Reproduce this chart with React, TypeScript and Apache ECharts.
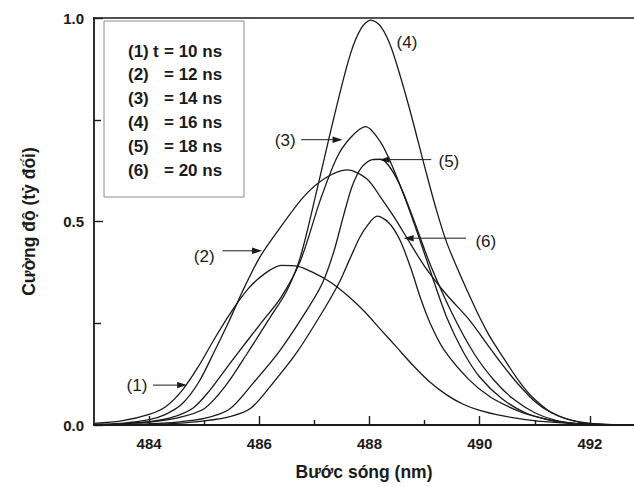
import React, { useEffect, useRef } from "react";
import * as echarts from "echarts";

const X_MIN = 483;
const X_MAX = 492.8;
const xMajorTicks = [484, 486, 488, 490, 492];
const xMinorTicks = [485, 487, 489, 491];
const Y_MIN = 0;
const Y_MAX = 1;
const Y_INTERVAL = 0.5;

const xTitle = "Bước sóng (nm)";
const yTitle = "Cường độ (tỷ đối)";

// (wavelength nm, relative intensity)
const curve1: [number, number][] = [
  [483.0, 0.004], [483.5, 0.01], [484.0, 0.026], [484.3, 0.045], [484.6, 0.085],
  [484.9, 0.145], [485.2, 0.215], [485.5, 0.28], [485.8, 0.335], [486.1, 0.372],
  [486.4, 0.392], [486.7, 0.39], [487.0, 0.373], [487.3, 0.35], [487.6, 0.318],
  [487.9, 0.28], [488.2, 0.235], [488.5, 0.19], [488.8, 0.145], [489.1, 0.105],
  [489.4, 0.074], [489.7, 0.051], [490.0, 0.036], [490.4, 0.023], [490.8, 0.014],
  [491.3, 0.007], [492.0, 0.002], [492.8, 0.0],
];
const curve2: [number, number][] = [
  [483.0, 0.001], [483.5, 0.004], [484.0, 0.013], [484.3, 0.026], [484.6, 0.052],
  [484.9, 0.105], [485.2, 0.185], [485.45, 0.255], [485.7, 0.33], [486.0, 0.41],
  [486.3, 0.47], [486.8, 0.56], [487.2, 0.607], [487.6, 0.627], [487.95, 0.605],
  [488.2, 0.56], [488.45, 0.51], [488.7, 0.455], [489.0, 0.39], [489.4, 0.32],
  [489.8, 0.26], [490.1, 0.205], [490.4, 0.15], [490.7, 0.1], [491.0, 0.058],
  [491.3, 0.03], [491.6, 0.014], [492.0, 0.004], [492.8, 0.0],
];
const curve3: [number, number][] = [
  [483.0, 0.001], [483.5, 0.003], [484.0, 0.008], [484.4, 0.018], [484.8, 0.042],
  [485.1, 0.085], [485.35, 0.13], [485.6, 0.175], [486.0, 0.245], [486.4, 0.315],
  [486.75, 0.405], [487.1, 0.55], [487.4, 0.655], [487.65, 0.705], [487.93, 0.733],
  [488.2, 0.695], [488.4, 0.64], [488.65, 0.555], [488.9, 0.46], [489.15, 0.36],
  [489.4, 0.265], [489.7, 0.18], [490.0, 0.118], [490.4, 0.065], [490.8, 0.032],
  [491.2, 0.014], [491.6, 0.005], [492.0, 0.001], [492.8, 0.0],
];
const curve4: [number, number][] = [
  [483.0, 0.001], [483.5, 0.003], [484.0, 0.007], [484.5, 0.017], [485.0, 0.04],
  [485.38, 0.095], [485.8, 0.18], [486.2, 0.265], [486.5, 0.33], [486.75, 0.415],
  [487.05, 0.58], [487.38, 0.77], [487.65, 0.91], [487.85, 0.975], [488.02, 0.995],
  [488.2, 0.98], [488.4, 0.925], [488.7, 0.79], [489.0, 0.635], [489.2, 0.535],
  [489.41, 0.445], [489.84, 0.31], [490.15, 0.225], [490.44, 0.163], [490.7, 0.11],
  [490.93, 0.072], [491.29, 0.032], [491.8, 0.007], [492.3, 0.001], [492.8, 0.0],
];
const curve5: [number, number][] = [
  [483.0, 0.0], [483.5, 0.001], [484.0, 0.003], [484.5, 0.007], [485.0, 0.016],
  [485.45, 0.038], [485.87, 0.1], [486.38, 0.184], [486.9, 0.29], [487.15, 0.35],
  [487.35, 0.425], [487.52, 0.51], [487.68, 0.585], [487.85, 0.632], [488.05, 0.652],
  [488.2, 0.653], [488.35, 0.637], [488.55, 0.59], [488.8, 0.505], [489.1, 0.395],
  [489.5, 0.274], [489.9, 0.175], [490.26, 0.11], [490.6, 0.065], [491.0, 0.03],
  [491.4, 0.011], [491.8, 0.003], [492.3, 0.0], [492.8, 0.0],
];
const curve6: [number, number][] = [
  [483.0, 0.0], [484.0, 0.002], [484.5, 0.004], [485.0, 0.01], [485.5, 0.022],
  [485.85, 0.042], [486.2, 0.095], [486.69, 0.18], [487.2, 0.29], [487.45, 0.35],
  [487.65, 0.41], [487.82, 0.46], [487.96, 0.49], [488.14, 0.513], [488.35, 0.497],
  [488.55, 0.455], [488.75, 0.385], [488.93, 0.31], [489.1, 0.25], [489.35, 0.185],
  [489.8, 0.112], [490.2, 0.068], [490.64, 0.038], [491.0, 0.021], [491.5, 0.007],
  [492.0, 0.001], [492.8, 0.0],
];
const curves = [curve1, curve2, curve3, curve4, curve5, curve6];

const legendLabels = ["(1)", "(2)", "(3)", "(4)", "(5)", "(6)"];
const legendValues = ["= 10 ns", "= 12 ns", "= 14 ns", "= 16 ns", "= 18 ns", "= 20 ns"];

type Ann = { label: string; text: [number, number]; from?: [number, number]; to?: [number, number] };
const annotations: Ann[] = [
  { label: "(1)", text: [483.78, 0.098], from: [484.07, 0.098], to: [484.69, 0.098] },
  { label: "(2)", text: [485.0, 0.415], from: [485.33, 0.428], to: [486.05, 0.428] },
  { label: "(3)", text: [486.47, 0.7], from: [486.76, 0.701], to: [487.51, 0.701] },
  { label: "(4)", text: [488.68, 0.939] },
  { label: "(5)", text: [489.44, 0.648], from: [489.12, 0.652], to: [488.18, 0.652] },
  { label: "(6)", text: [490.11, 0.45], from: [489.75, 0.459], to: [488.62, 0.459] },
];

const FONT = "'Liberation Sans', Arial, Helvetica, sans-serif";
const INK = "#1a1a1a";

export default function App() {
  const ref = useRef<HTMLDivElement>(null);
  useEffect(() => {
    document.body.style.margin = "0";
    const el = ref.current!;
    const chart = echarts.init(el, undefined, { renderer: "svg" });
    const axisLine = { show: true, onZero: false, lineStyle: { color: INK, width: 1.8 } };
    const option: any = {
      animation: false,
      backgroundColor: "#ffffff",
      textStyle: { fontFamily: FONT },
      grid: { left: 94, top: 18, right: 0, bottom: 62, containLabel: false },
      xAxis: [
        {
          type: "value", min: X_MIN, max: X_MAX, position: "bottom",
          axisLine,
          axisTick: { show: true, inside: true, length: 9, customValues: xMajorTicks, lineStyle: { color: INK, width: 1.4 } },
          axisLabel: { customValues: xMajorTicks, fontWeight: "bold", fontSize: 15, color: INK, margin: 11, fontFamily: FONT },
          splitLine: { show: false },
          name: xTitle, nameLocation: "middle", nameGap: 38,
          nameTextStyle: { fontSize: 17.5, fontWeight: "bold", color: INK, fontFamily: FONT },
        },
        {
          type: "value", min: X_MIN, max: X_MAX, position: "bottom",
          axisLine: { show: false },
          axisTick: { show: true, inside: true, length: 5, customValues: xMinorTicks, lineStyle: { color: INK, width: 1.4 } },
          axisLabel: { show: false },
          splitLine: { show: false },
        },
        {
          type: "value", min: X_MIN, max: X_MAX, position: "top",
          axisLine: { show: true, lineStyle: { color: INK, width: 1.6 } },
          axisTick: { show: false }, axisLabel: { show: false }, splitLine: { show: false },
        },
      ],
      yAxis: [
        {
          type: "value", min: Y_MIN, max: Y_MAX, interval: Y_INTERVAL,
          axisLine,
          axisTick: { show: true, inside: true, length: 9, lineStyle: { color: INK, width: 1.4 } },
          minorTick: { show: true, splitNumber: 2, length: 7, lineStyle: { color: INK, width: 1.4 } },
          axisLabel: { formatter: (v: number) => v.toFixed(1), fontWeight: "bold", fontSize: 15, color: INK, margin: 10, fontFamily: FONT },
          splitLine: { show: false }, minorSplitLine: { show: false },
          name: yTitle, nameLocation: "middle", nameGap: 56, nameRotate: 90,
          nameTextStyle: { fontSize: 17.5, fontWeight: "bold", color: INK, fontFamily: FONT },
        },
      ],
      series: curves.map((c, i) => ({
        type: "line", name: legendLabels[i], xAxisIndex: 0, yAxisIndex: 0,
        data: c, smooth: 0.3, showSymbol: false, symbol: "none",
        lineStyle: { color: INK, width: 1.3 }, z: 3,
      })),
    };
    chart.setOption(option);

    const toPx = (p: [number, number]) => chart.convertToPixel({ xAxisIndex: 0, yAxisIndex: 0 }, p) as number[];
    const g: any[] = [];
    g.push({ type: "rect", shape: { x: 104, y: 21, width: 140, height: 176 }, style: { fill: "#fff", stroke: "#8c8c8c", lineWidth: 1 }, z: 10 });
    legendLabels.forEach((lab, i) => {
      const y = 51 + i * 23.8;
      const st = { fill: INK, fontSize: 17, fontWeight: "bold", fontFamily: FONT, verticalAlign: "middle", align: "left" };
      g.push({ type: "text", x: 128, y, style: { ...st, text: lab }, z: 11 });
      if (i === 0) g.push({ type: "text", x: 153, y, style: { ...st, text: "t" }, z: 11 });
      g.push({ type: "text", x: 164, y, style: { ...st, text: legendValues[i] }, z: 11 });
    });
    annotations.forEach((a) => {
      const [tx, ty] = toPx(a.text);
      g.push({ type: "text", x: tx, y: ty, style: { text: a.label, fill: INK, fontSize: 17, fontFamily: FONT, align: "center", verticalAlign: "middle" }, z: 11 });
      if (a.from && a.to) {
        const [x1, y1] = toPx(a.from);
        const [x2, y2] = toPx(a.to);
        const dx = x2 - x1, dy = y2 - y1;
        const L = Math.hypot(dx, dy) || 1;
        const ux = dx / L, uy = dy / L;
        const hl = 10, hw = 3.2;
        const bx = x2 - ux * hl, by = y2 - uy * hl;
        g.push({ type: "line", shape: { x1, y1, x2: bx, y2: by }, style: { stroke: INK, lineWidth: 1 }, z: 11 });
        g.push({ type: "polygon", shape: { points: [[x2, y2], [bx - uy * hw, by + ux * hw], [bx + uy * hw, by - ux * hw]] }, style: { fill: INK }, z: 11 });
      }
    });
    chart.setOption({ graphic: g });
    return () => chart.dispose();
  }, []);
  return <div ref={ref} style={{ width: 634, height: 487, position: "absolute", left: 0, top: 0 }} />;
}
